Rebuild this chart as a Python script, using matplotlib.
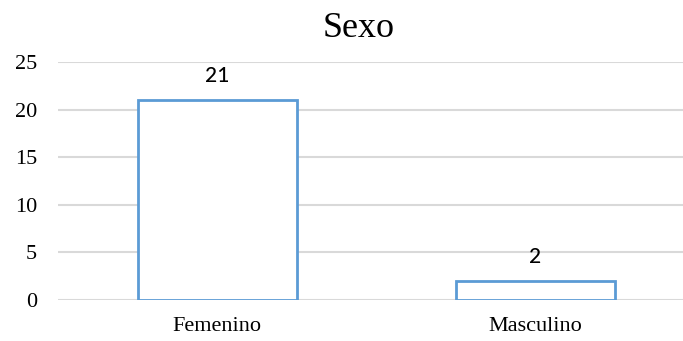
import matplotlib
matplotlib.use("Agg")
import matplotlib.pyplot as plt

categories = ["Femenino", "Masculino"]
counts = [21, 2]
y_ticks = [0, 5, 10, 15, 20, 25]
title = "Sexo"

W, H = 683, 341
fig = plt.figure(figsize=(W / 100, H / 100), dpi=100)
fig.patch.set_facecolor("white")

# plot area: left edge at x=58 px, one category = 318 px
ax = fig.add_axes([58 / W, (H - 300) / H, 636 / W, (300 - 62.3) / H])
ax.set_xlim(-0.5, 1.5)
ax.set_ylim(0, 25)

xs = list(range(len(categories)))
ax.bar(xs, counts, width=0.5, color="white", edgecolor="#5B9BD5",
       linewidth=2.0, zorder=3)

for x, v in zip(xs, counts):
    ax.annotate(str(v), xy=(x, v), xytext=(0, 17.5), textcoords="offset points",
                ha="center", va="center", fontsize=15, fontweight="medium",
                family=["Lato", "DejaVu Sans"], color="#000000", zorder=4)

ax.set_yticks(y_ticks)
ax.set_yticklabels([str(t) for t in y_ticks])
ax.set_xticks(xs)
ax.set_xticklabels(categories)

for lbl in ax.get_xticklabels() + ax.get_yticklabels():
    lbl.set_fontfamily("Liberation Serif")
    lbl.set_fontsize(16)
    lbl.set_color("#000000")

ax.tick_params(axis="y", length=0, pad=15)
ax.tick_params(axis="x", length=0, pad=12)

ax.grid(axis="y", color="#D9D9D9", linewidth=1.5, zorder=0)
ax.set_axisbelow(True)
for s in ax.spines.values():
    s.set_visible(False)

fig.text(358.5 / W, 1 - 37.3 / H, title, ha="center", va="baseline",
         fontsize=26, family="Liberation Serif", color="#000000")

fig.savefig("out.png", dpi=100, facecolor="white")
